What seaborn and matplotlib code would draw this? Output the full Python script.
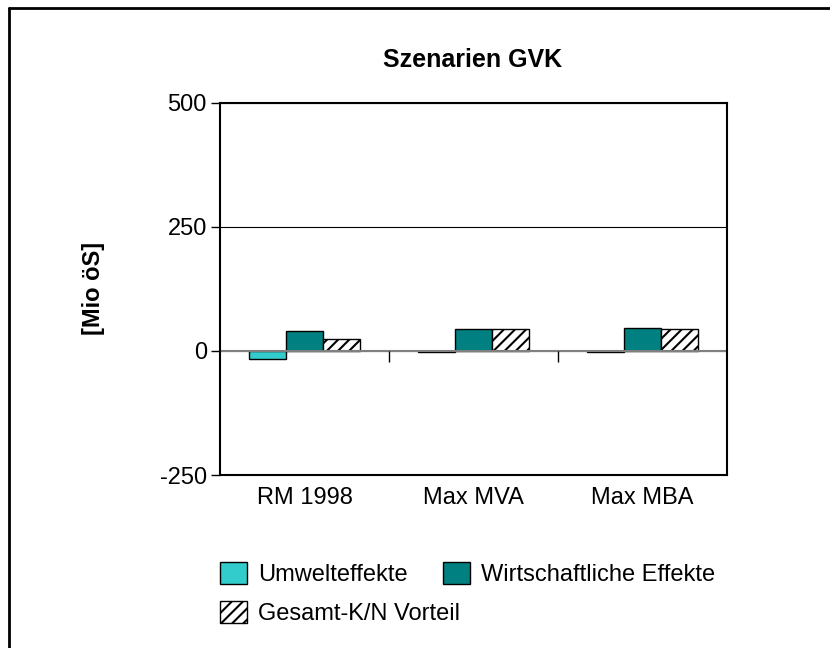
import numpy as np
import pandas as pd
import matplotlib
matplotlib.use("Agg")
import matplotlib.pyplot as plt
from matplotlib.lines import Line2D
import seaborn as sns

# values
categories = ["RM 1998", "Max MVA", "Max MBA"]
series = ["Umwelteffekte", "Wirtschaftliche Effekte", "Gesamt-K/N Vorteil"]
umwelt = [-16, -1.5, -1.5]
wirtschaft = [39, 43, 45]
gesamt = [23, 43, 44]
colors = ["#33CCCC", "#008080", "#FFFFFF"]

df = pd.DataFrame({
    "Szenario": categories * 3,
    "Effekt": [s for s in series for _ in categories],
    "Wert": umwelt + wirtschaft + gesamt,
})

sns.set_style("white")
plt.rcParams["font.family"] = ["Liberation Sans", "DejaVu Sans"]
plt.rcParams.update({"text.color": "black", "axes.labelcolor": "black",
                     "xtick.color": "black", "ytick.color": "black",
                     "hatch.linewidth": 1.5})

fig = plt.figure(figsize=(8.3, 6.48), dpi=100)
ax = fig.add_axes([220 / 830, 1 - 475 / 648, 507 / 830, 372.5 / 648])

sns.barplot(data=df, x="Szenario", y="Wert", hue="Effekt", hue_order=series,
            order=categories, palette=colors, width=0.66, edgecolor="black",
            linewidth=1, saturation=1, legend=False, ax=ax)

for bar in ax.containers[2]:
    bar.set_hatch("///")

ax.set_ylim(-250, 500)
ax.set_yticks([-250, 0, 250, 500])
ax.set_yticklabels(["-250", "0", "250", "500"])
ax.set_xlim(-0.5, len(categories) - 0.5)
ax.grid(axis="y", color="black", lw=0.8, zorder=0)
ax.set_axisbelow(True)
ax.axhline(0, color="#808080", lw=1.5, zorder=1)
ax.vlines(np.arange(len(categories) - 1) + 0.5, -22, 0, color="black", lw=1)

for sp in ax.spines.values():
    sp.set_visible(True)
    sp.set_color("black")
    sp.set_linewidth(1.5)

ax.tick_params(axis="y", left=True, length=6.5, width=1, direction="out",
               labelsize=17, pad=3)
ax.tick_params(axis="x", length=0, labelsize=17, pad=9)
ax.set_xlabel("")
ax.set_ylabel("[Mio öS]", fontsize=17, fontweight="bold")
ax.yaxis.set_label_coords(-0.227, 0.5)

fig.text(473 / 830, 1 - 60 / 648, "Szenarien GVK", fontsize=18,
         fontweight="bold", ha="center", va="center")

handles = [ax.containers[0], ax.containers[2], ax.containers[1]]
labels = [series[0], series[2], series[1]]
fig.legend(handles, labels, loc="upper left", bbox_to_anchor=(0.265, 0.1327),
           ncol=2, frameon=False, fontsize=17, borderpad=0, borderaxespad=0,
           handlelength=1.15, handleheight=1.05, handletextpad=0.45,
           columnspacing=-0.7, labelspacing=0.65)

# outer chart frame (left and top edge only visible)
fig.add_artist(Line2D([9 / 830, 9 / 830], [0, 1 - 8 / 648], color="black",
                      lw=2, transform=fig.transFigure))
fig.add_artist(Line2D([9 / 830, 1], [1 - 8 / 648, 1 - 8 / 648], color="black",
                      lw=2, transform=fig.transFigure))

fig.savefig("out.png", dpi=100)
